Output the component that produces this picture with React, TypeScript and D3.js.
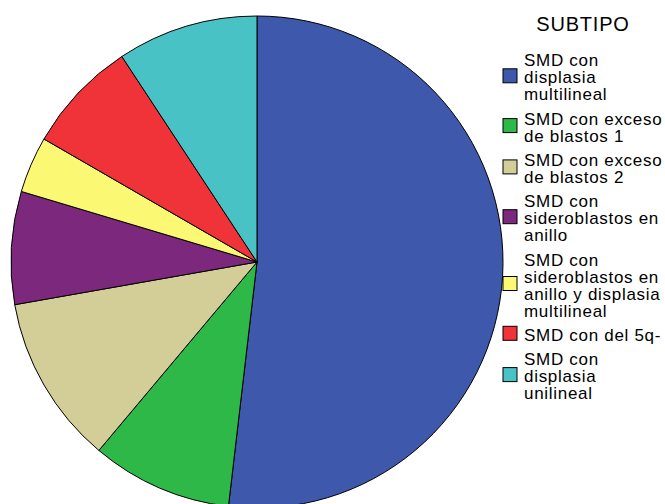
import React from "react";
import * as d3 from "d3";

// Subtypes of myelodysplastic syndrome (case counts)
const categories: string[][] = [
  ["SMD con", "displasia", "multilineal"],
  ["SMD con exceso", "de blastos 1"],
  ["SMD con exceso", "de blastos 2"],
  ["SMD con", "sideroblastos en", "anillo"],
  ["SMD con", "sideroblastos en", "anillo y displasia", "multilineal"],
  ["SMD con del 5q-"],
  ["SMD con", "displasia", "unilineal"],
];
const counts: number[] = [28, 5, 6, 4, 2, 4, 5];
const colors: string[] = ["#3e58ac", "#2eb848", "#d3ce97", "#7c287d", "#fbf873", "#ef3338", "#48c2c5"];
const legendTitle = "SUBTIPO";

const W = 665;
const H = 504;
const cx = 257;
const cy = 262;
const radius = 246;

export default function App() {
  const pie = d3
    .pie<number>()
    .sort(null)
    .value((d) => d)
    .startAngle(0)
    .endAngle(2 * Math.PI);
  const arcs = pie(counts);
  const arcGen = d3.arc<d3.PieArcDatum<number>>().innerRadius(0).outerRadius(radius);

  // Legend layout
  const font = "'Liberation Sans', Arial, sans-serif";
  const lineH = 17;
  const itemGap = 24.3;
  const textX = 524;
  const swX = 503;
  const sw = 14;
  let baseline = 66.3;
  const items = categories.map((lines, i) => {
    const first = baseline;
    const last = first + (lines.length - 1) * lineH;
    baseline = last + itemGap;
    const mid = (first + last) / 2 - 7.5;
    return { lines, first, mid, color: colors[i] };
  });

  return (
    <svg
      width={W}
      height={H}
      style={{ position: "absolute", left: 0, top: 0, background: "#fff" }}
    >
      <g transform={`translate(${cx},${cy})`}>
        {arcs.map((a, i) => (
          <path key={i} d={arcGen(a) || ""} fill={colors[i]} stroke="#000" strokeWidth={1} strokeLinejoin="round" />
        ))}
      </g>
      <text x={583} y={31} textAnchor="middle" fontFamily={font} fontSize={20} letterSpacing={0.8} fill="#000">
        {legendTitle}
      </text>
      {items.map((it, i) => (
        <g key={i}>
          <rect x={swX} y={it.mid - sw / 2} width={sw} height={sw} fill={it.color} stroke="#000" strokeWidth={1} />
          {it.lines.map((ln, j) => (
            <text key={j} x={textX} y={it.first + j * lineH} fontFamily={font} fontSize={17} letterSpacing={0.7} fill="#000">
              {ln}
            </text>
          ))}
        </g>
      ))}
    </svg>
  );
}
